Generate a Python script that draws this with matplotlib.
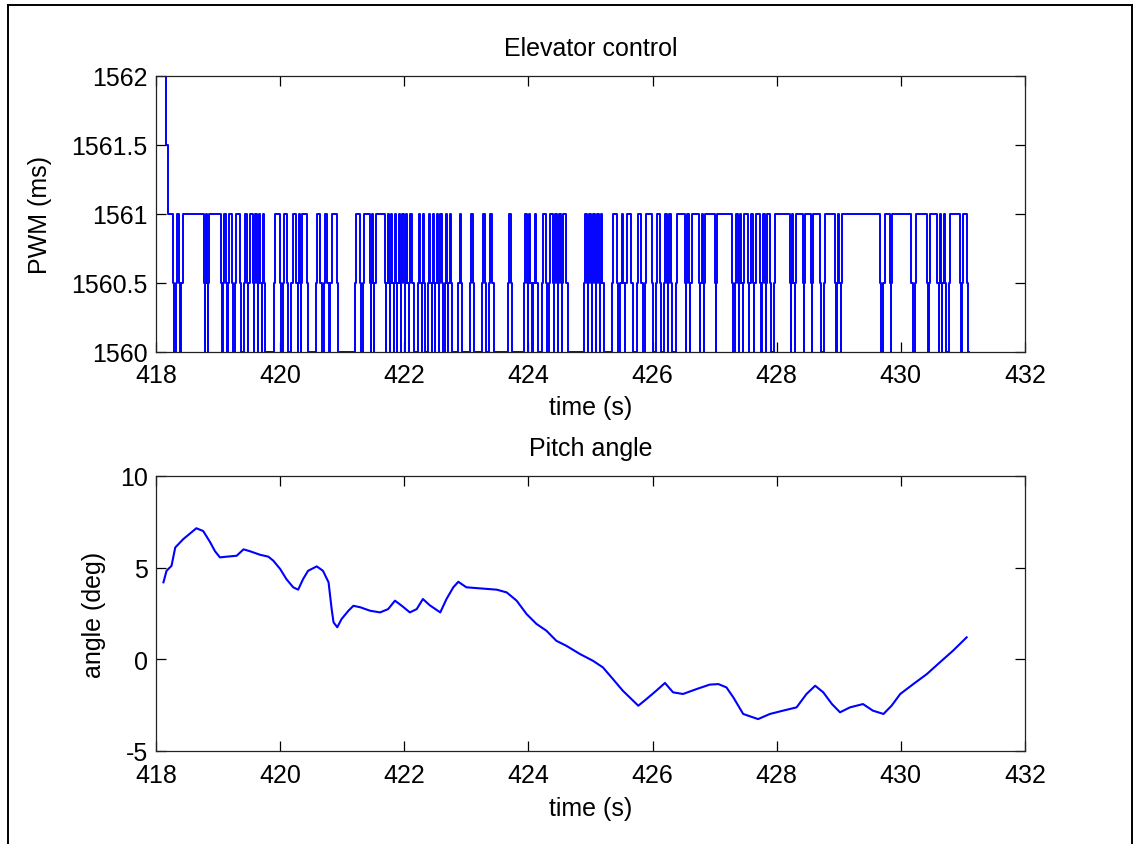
import matplotlib
matplotlib.use("Agg")
import matplotlib.pyplot as plt
from matplotlib.lines import Line2D

plt.rcParams['font.family'] = ['Liberation Sans', 'DejaVu Sans']

# ---------------- data ----------------
# Elevator PWM command: start-up samples, then the intervals spent at the low level
pwm_start_times = [418.10, 418.16, 418.20]
pwm_start_levels = [1562.0, 1561.5, 1561.0]
pwm_high = 1561.0
pwm_mid = 1560.5
pwm_low = 1560.0
pwm_sample = 0.02           # one sample spent on the 1560.5 half-step
pwm_low_start = [
    418.27, 418.37, 418.77, 418.82, 419.05, 419.13, 419.22, 419.35, 419.47, 419.56,
    419.62, 419.68, 419.74, 420.00, 420.11, 420.26, 420.32, 420.43, 420.65, 420.76,
    420.91, 421.29, 421.44, 421.50, 421.69, 421.75, 421.81, 421.87, 421.93, 421.99,
    422.05, 422.13, 422.26, 422.32, 422.42, 422.48, 422.54, 422.60, 422.69, 422.75,
    422.91, 423.11, 423.30, 423.42, 423.72, 423.97, 424.03, 424.13, 424.28, 424.39,
    424.46, 424.52, 424.61, 424.94, 425.00, 425.07, 425.13, 425.19, 425.42, 425.53,
    425.66, 425.82, 425.99, 426.12, 426.23, 426.29, 426.52, 426.58, 426.75, 426.81,
    427.00, 427.28, 427.37, 427.43, 427.54, 427.62, 427.73, 427.81, 427.89, 428.21,
    428.27, 428.42, 428.55, 428.70, 428.94, 429.01, 429.66, 429.82, 430.17, 430.42,
    430.59, 430.65, 430.71, 430.95, 431.06,
]
pwm_low_end = [
    418.34, 418.43, 418.81, 418.86, 419.10, 419.18, 419.29, 419.43, 419.51, 419.60,
    419.66, 419.72, 419.92, 420.06, 420.20, 420.30, 420.36, 420.60, 420.72, 420.83,
    421.22, 421.35, 421.48, 421.54, 421.73, 421.79, 421.85, 421.91, 421.97, 422.03,
    422.09, 422.24, 422.30, 422.40, 422.46, 422.52, 422.58, 422.67, 422.73, 422.89,
    423.08, 423.27, 423.38, 423.69, 423.95, 424.01, 424.10, 424.24, 424.35, 424.43,
    424.50, 424.56, 424.91, 424.98, 425.04, 425.11, 425.17, 425.37, 425.50, 425.58,
    425.77, 425.90, 426.07, 426.20, 426.27, 426.39, 426.56, 426.63, 426.79, 426.85,
    427.04, 427.34, 427.41, 427.47, 427.58, 427.66, 427.78, 427.85, 427.97, 428.25,
    428.31, 428.46, 428.59, 428.78, 428.99, 429.05, 429.74, 429.86, 430.25, 430.47,
    430.63, 430.69, 430.79, 431.00, None,
]
pwm_end_time = 431.10

# Pitch angle (deg)
pitch_time = [
    418.12, 418.17, 418.25, 418.31, 418.44, 418.54, 418.65, 418.76, 418.87, 418.95,
    419.03, 419.14, 419.30, 419.41, 419.51, 419.68, 419.81, 419.89, 420.00, 420.10,
    420.21, 420.29, 420.37, 420.45, 420.59, 420.69, 420.78, 420.83, 420.86, 420.92,
    420.99, 421.10, 421.18, 421.29, 421.45, 421.61, 421.74, 421.85, 421.96, 422.09,
    422.20, 422.30, 422.41, 422.58, 422.68, 422.79, 422.87, 423.00, 423.22, 423.49,
    423.65, 423.81, 423.97, 424.13, 424.29, 424.45, 424.61, 424.83, 425.04, 425.20,
    425.36, 425.52, 425.66, 425.77, 425.90, 426.06, 426.20, 426.33, 426.49, 426.71,
    426.92, 427.06, 427.19, 427.30, 427.46, 427.70, 427.89, 428.10, 428.32, 428.48,
    428.62, 428.75, 428.89, 429.02, 429.18, 429.39, 429.55, 429.72, 429.85, 429.99,
    430.20, 430.42, 430.63, 430.84, 431.06,
]
pitch_deg = [
    4.20, 4.83, 5.10, 6.10, 6.56, 6.84, 7.15, 7.00, 6.40, 5.90,
    5.56, 5.60, 5.65, 6.00, 5.90, 5.70, 5.60, 5.38, 4.93, 4.38,
    3.93, 3.80, 4.38, 4.83, 5.07, 4.83, 4.20, 2.74, 2.02, 1.75,
    2.20, 2.65, 2.92, 2.84, 2.65, 2.56, 2.74, 3.20, 2.92, 2.56,
    2.74, 3.29, 2.95, 2.56, 3.29, 3.93, 4.23, 3.93, 3.87, 3.80,
    3.65, 3.20, 2.47, 1.93, 1.56, 1.01, 0.74, 0.29, -0.08, -0.44,
    -1.07, -1.71, -2.17, -2.53, -2.17, -1.71, -1.29, -1.80, -1.89, -1.62,
    -1.38, -1.35, -1.53, -2.07, -2.98, -3.26, -2.98, -2.80, -2.62, -1.89,
    -1.44, -1.80, -2.44, -2.89, -2.62, -2.44, -2.80, -2.98, -2.53, -1.89,
    -1.35, -0.80, -0.16, 0.47, 1.20,
]

time_ticks = [418, 420, 422, 424, 426, 428, 430, 432]
pwm_ticks = [1560, 1560.5, 1561, 1561.5, 1562]
pwm_tick_labels = ["1560", "1560.5", "1561", "1561.5", "1562"]
pitch_ticks = [-5, 0, 5, 10]
pitch_tick_labels = ["-5", "0", "5", "10"]

# ---------------- build the PWM step trace ----------------
pwm_t = list(pwm_start_times)
pwm_v = list(pwm_start_levels)
for a, b in zip(pwm_low_start, pwm_low_end):
    pwm_t += [a, a + pwm_sample]
    pwm_v += [pwm_mid, pwm_low]
    if b is None:
        pwm_t.append(pwm_end_time)
        pwm_v.append(pwm_low)
    else:
        pwm_t += [b - pwm_sample, b]
        pwm_v += [pwm_mid, pwm_high]

# ---------------- figure ----------------
W, H = 1135, 845
fig = plt.figure(figsize=(W / 100, H / 100), dpi=100)
fig.patch.set_facecolor('white')

FS = 18
BLUE = '#0000ff'

def style_axes(ax, xpad):
    ax.tick_params(direction='in', length=7, width=0.9, top=True, right=True,
                   labelsize=FS, colors='black')
    ax.tick_params(axis='x', pad=xpad)
    ax.tick_params(axis='y', pad=6)
    for s in ax.spines.values():
        s.set_linewidth(0.9)
        s.set_color('#222222')

ax1 = fig.add_axes([156 / W, 1 - 353 / H, 869 / W, 276 / H])
ax1.step(pwm_t, pwm_v, where='post', color=BLUE, linewidth=1.4)
ax1.set_xlim(418, 432)
ax1.set_ylim(1560, 1562)
ax1.set_xticks(time_ticks)
ax1.set_yticks(pwm_ticks)
ax1.set_yticklabels(pwm_tick_labels)
ax1.set_title("Elevator control", fontsize=FS, pad=15)
ax1.set_xlabel("time (s)", fontsize=FS)
ax1.set_ylabel("PWM (ms)", fontsize=FS)
ax1.xaxis.set_label_coords(0.5, -0.155)
ax1.yaxis.set_label_coords(-0.12, 0.5)
style_axes(ax1, 8)

ax2 = fig.add_axes([156 / W, 1 - 752 / H, 869 / W, 275 / H])
ax2.plot(pitch_time, pitch_deg, color=BLUE, linewidth=1.5)
ax2.set_xlim(418, 432)
ax2.set_ylim(-5, 10)
ax2.set_xticks(time_ticks)
ax2.set_yticks(pitch_ticks)
ax2.set_yticklabels(pitch_tick_labels)
ax2.set_title("Pitch angle", fontsize=FS, pad=15)
ax2.set_xlabel("time (s)", fontsize=FS)
ax2.set_ylabel("angle (deg)", fontsize=FS)
ax2.xaxis.set_label_coords(0.5, -0.165)
ax2.yaxis.set_label_coords(-0.058, 0.5)
style_axes(ax2, 9)

# frame around the figure window
for xs, ys in [([8 / W, 8 / W], [0, 1 - 6 / H]),
               ([8 / W, 1132 / W], [1 - 6 / H, 1 - 6 / H]),
               ([1132 / W, 1132 / W], [1 - 6 / H, 0])]:
    fig.add_artist(Line2D(xs, ys, color='black', linewidth=1.4))

fig.savefig("out.png", dpi=100)
